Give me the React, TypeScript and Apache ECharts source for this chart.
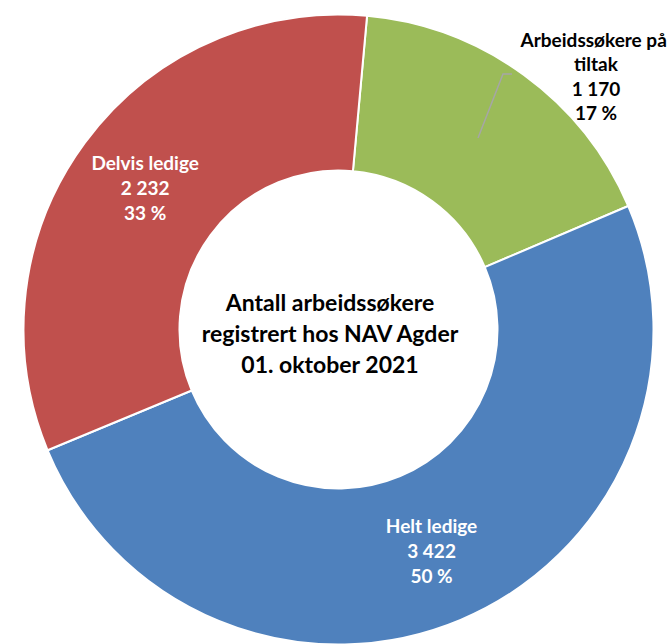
import React, { useEffect, useRef } from "react";
import * as echarts from "echarts";

const categories = ["Arbeidssøkere på tiltak", "Helt ledige", "Delvis ledige"];
const values = [1170, 3422, 2232];
const colors = ["#9BBB59", "#4F81BD", "#C0504D"];
const labelColors = ["#000000", "#FFFFFF", "#FFFFFF"];
const centerTitle = ["Antall arbeidssøkere", "registrert hos NAV Agder", "01. oktober 2021"];

const CX = 338.5;
const CY = 329.5;
const R_IN = 159;
const R_OUT = 315;
const START_ANGLE = 84.8;

const fmt = (v: number) => String(v).replace(/\B(?=(\d{3})+(?!\d))/g, " ");

export default function App() {
  const ref = useRef<HTMLDivElement>(null);
  useEffect(() => {
    if (!ref.current) return;
    const chart = echarts.init(ref.current, undefined, { renderer: "svg" });
    const total = values.reduce((a, b) => a + b, 0);
    const mid0 = (90 - START_ANGLE) + (values[0] / total) * 180;
    const rMid = (R_IN + R_OUT) / 2;
    const rad = (mid0 * Math.PI) / 180;
    const lineStart = [CX + rMid * Math.sin(rad), CY - rMid * Math.cos(rad)];
    const font = "Lato, 'Open Sans', sans-serif";

    chart.setOption({
      animation: false,
      backgroundColor: "#ffffff",
      graphic: [
        {
          type: "text",
          x: 330,
          y: 333,
          z: 10,
          style: {
            text: centerTitle.join("\n"),
            fill: "#000000",
            font: `bold 23px ${font}`,
            lineHeight: 31,
            align: "center",
            verticalAlign: "middle",
          },
        },
        {
          type: "polyline",
          z: 10,
          shape: { points: [lineStart, [503, 74], [512, 74]] },
          style: { stroke: "#A6A6A6", lineWidth: 1.5, fill: null },
        },
      ],
      series: [
        {
          type: "pie",
          center: [CX, CY],
          radius: [R_IN, R_OUT],
          startAngle: START_ANGLE,
          clockwise: true,
          avoidLabelOverlap: false,
          itemStyle: { borderColor: "#ffffff", borderWidth: 2 },
          emphasis: { disabled: true },
          label: {
            fontFamily: font,
            fontWeight: "bold",
            fontSize: 19,
            lineHeight: 25,
            formatter: (p: any) => `${p.name}\n${fmt(p.value)}\n${Math.round(p.percent)} %`,
          },
          labelLine: { show: false },
          labelLayout: (p: any) => {
            if (p.dataIndex === 0) {
              return {
                x: 596,
                y: 76,
                align: "center",
                verticalAlign: "middle",
              };
            }
            return {};
          },
          data: categories.map((name, i) => ({
            name,
            value: values[i],
            itemStyle: { color: colors[i] },
            label: {
              position: i === 0 ? "outside" : "inside",
              color: labelColors[i],
              fontSize: 19,
              fontWeight: "bold",
              fontFamily: font,
              width: i === 0 ? 170 : undefined,
              overflow: i === 0 ? "break" : undefined,
              align: "center",
              lineHeight: i === 0 ? 24.5 : 25,
            },
            labelLine: { show: false },
          })),
        },
      ],
    });
    return () => chart.dispose();
  }, []);
  return (
    <div
      ref={ref}
      style={{ position: "fixed", left: 0, top: 0, width: 672, height: 644 }}
    />
  );
}
